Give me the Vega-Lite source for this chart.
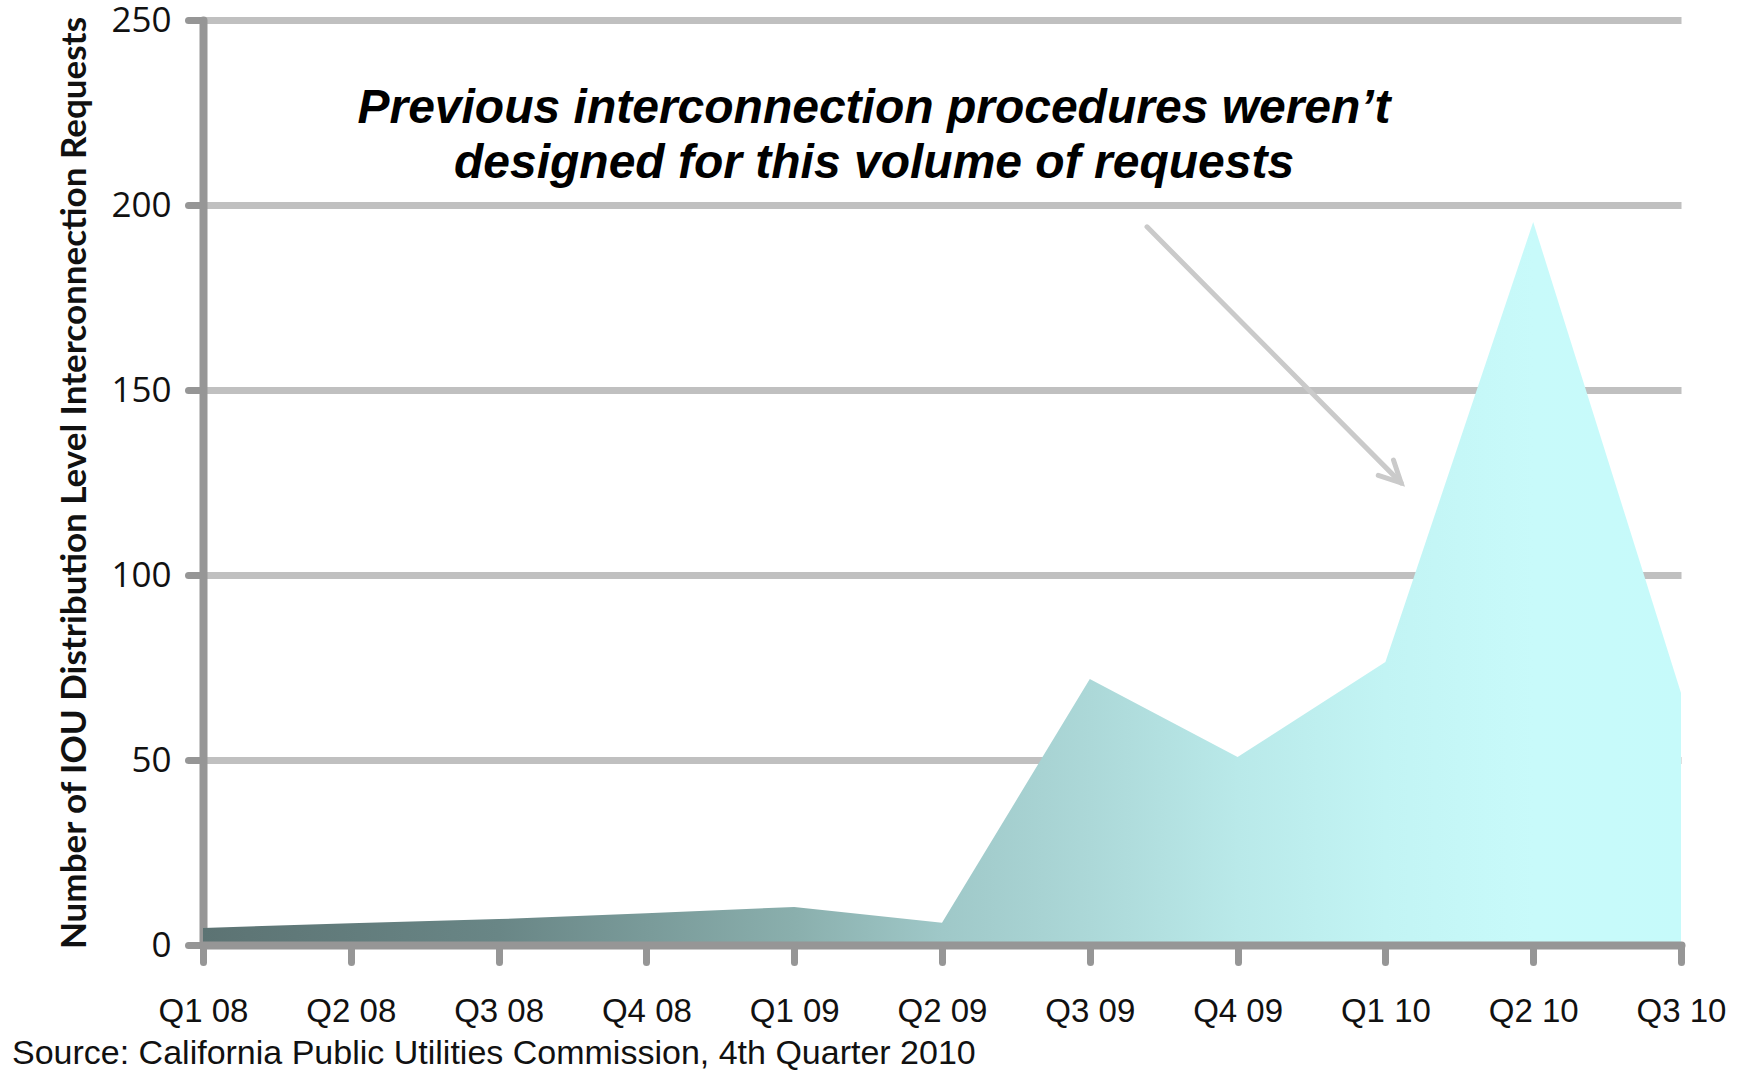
{
  "$schema": "https://vega.github.io/schema/vega-lite/v6.json",
  "width": 1478,
  "height": 925,
  "autosize": {"type": "none"},
  "padding": {"left": 203, "top": 20, "right": 58, "bottom": 126},
  "background": "white",
  "config": {"view": {"stroke": null}},
  "title": {
    "text": "Source: California Public Utilities Commission, 4th Quarter 2010",
    "orient": "bottom",
    "anchor": "start",
    "frame": "group",
    "dx": -191,
    "offset": 9,
    "font": "Liberation Sans",
    "fontSize": 34,
    "fontWeight": "normal",
    "color": "#111111"
  },
  "encoding": {
    "x": {
      "field": "x",
      "type": "quantitative",
      "scale": {"domain": [0, 10], "nice": false, "zero": false},
      "axis": {
        "values": [0, 1, 2, 3, 4, 5, 6, 7, 8, 9, 10],
        "labelExpr": "['Q1 08','Q2 08','Q3 08','Q4 08','Q1 09','Q2 09','Q3 09','Q4 09','Q1 10','Q2 10','Q3 10'][datum.value]",
        "title": null,
        "grid": false,
        "labelFont": "Liberation Sans",
        "labelFontSize": 33,
        "labelColor": "#111111",
        "labelPadding": 33,
        "labelFlush": false,
        "labelOverlap": false,
        "tickSize": 17,
        "tickWidth": 7,
        "tickColor": "#969696",
        "tickCap": "round",
        "domainColor": "#969696",
        "domainWidth": 8,
        "domainCap": "round",
        "zindex": 1
      }
    },
    "y": {
      "field": "y",
      "type": "quantitative",
      "scale": {"domain": [0, 250], "nice": false},
      "axis": {
        "values": [0, 50, 100, 150, 200, 250],
        "title": "Number of IOU Distribution Level Interconnection Requests",
        "titleFont": "Lato",
        "titleFontSize": 35,
        "titleFontWeight": "bold",
        "titleColor": "#111111",
        "titlePadding": 18,
        "labelFont": "Open Sans",
        "labelFontSize": 35,
        "labelColor": "#111111",
        "labelPadding": 17,
        "tickSize": 15,
        "tickWidth": 7,
        "tickColor": "#969696",
        "tickCap": "round",
        "domainColor": "#969696",
        "domainWidth": 8,
        "domainCap": "round",
        "grid": true,
        "gridColor": "#c0c0c0",
        "gridWidth": 7
      }
    }
  },
  "layer": [
    {
      "data": {
        "values": [
          {"q": "Q1 08", "x": 0, "y": 4.6},
          {"q": "Q2 08", "x": 1, "y": 5.9},
          {"q": "Q3 08", "x": 2, "y": 7.0},
          {"q": "Q4 08", "x": 3, "y": 8.6},
          {"q": "Q1 09", "x": 4, "y": 10.3},
          {"q": "Q2 09", "x": 5, "y": 6.0},
          {"q": "Q3 09", "x": 6, "y": 71.9},
          {"q": "Q4 09", "x": 7, "y": 50.8},
          {"q": "Q1 10", "x": 8, "y": 76.5},
          {"q": "Q2 10", "x": 9, "y": 195.4},
          {"q": "Q3 10", "x": 10, "y": 68.1}
        ]
      },
      "mark": {
        "type": "area",
        "strokeWidth": 0,
        "color": {
          "gradient": "linear",
          "x1": 0, "x2": 1, "y1": 0, "y2": 0,
          "stops": [
            {"offset": 0, "color": "#5c7373"},
            {"offset": 0.2, "color": "#698686"},
            {"offset": 0.4, "color": "#8aafad"},
            {"offset": 0.5, "color": "#9fc8c8"},
            {"offset": 0.6, "color": "#acd8d8"},
            {"offset": 0.7, "color": "#b9e9e9"},
            {"offset": 0.8, "color": "#c2f4f4"},
            {"offset": 0.9, "color": "#c8fafa"},
            {"offset": 1, "color": "#c6fafa"}
          ]
        }
      }
    },
    {
      "data": {"values": [{"x": 6.387, "y": 194.1, "x2": 8.106, "y2": 124.9}]},
      "mark": {"type": "rule", "color": "#cacaca", "strokeWidth": 5, "strokeCap": "round"},
      "encoding": {
        "x2": {"field": "x2"},
        "y2": {"field": "y2"}
      }
    },
    {
      "data": {"values": [{"x": 8.106, "y": 124.9}]},
      "mark": {
        "type": "point",
        "shape": "M -1 -0.5 L 0 0 L -1 0.5",
        "size": 1850,
        "angle": 45,
        "filled": false,
        "stroke": "#cacaca",
        "strokeWidth": 5,
        "strokeCap": "round",
        "opacity": 1
      }
    },
    {
      "data": {
        "values": [
          {"x": 4.54, "y": 222.2, "t": "Previous interconnection procedures weren’t"},
          {"x": 4.54, "y": 207.3, "t": "designed for this volume of requests"}
        ]
      },
      "mark": {
        "type": "text",
        "font": "Liberation Sans",
        "fontSize": 48,
        "fontWeight": "bold",
        "fontStyle": "italic",
        "align": "center",
        "baseline": "alphabetic",
        "color": "#000000"
      },
      "encoding": {"text": {"field": "t"}}
    }
  ]
}
